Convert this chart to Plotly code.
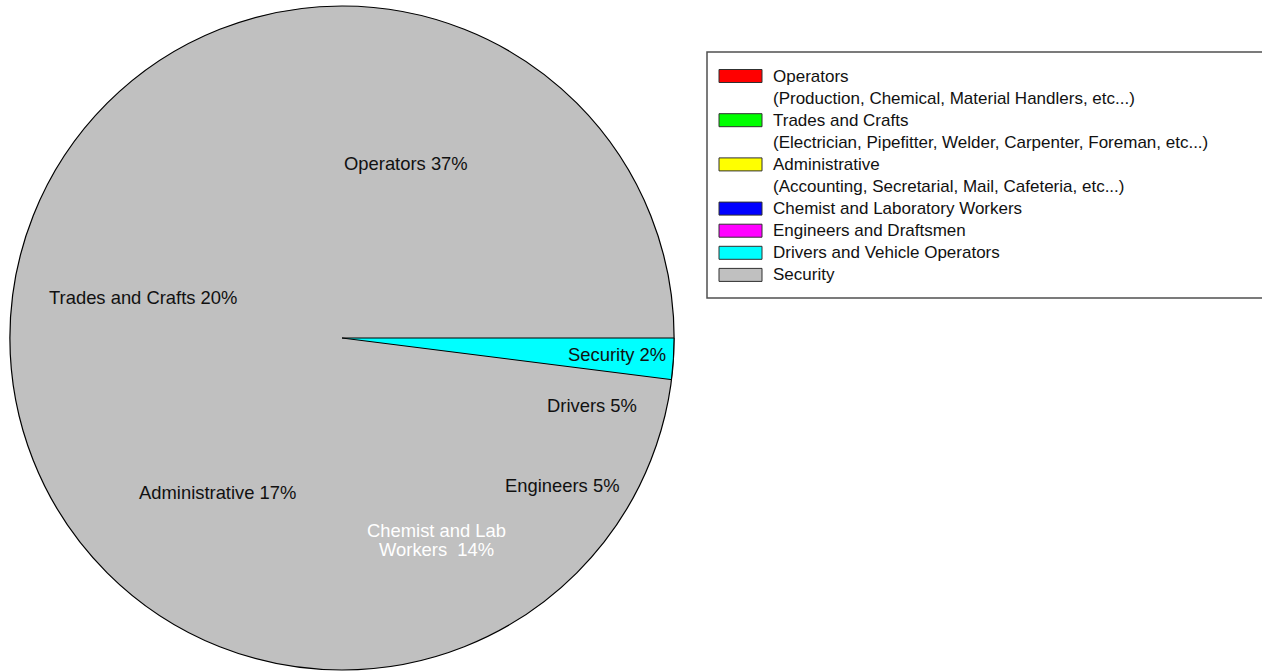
import math
import plotly.graph_objects as go

# ---------------- data ----------------
categories = ["Operators", "Trades and Crafts", "Administrative",
              "Chemist and Laboratory Workers", "Engineers and Draftsmen",
              "Drivers and Vehicle Operators", "Security"]
descriptions = ["(Production, Chemical, Material Handlers, etc...)",
                "(Electrician, Pipefitter, Welder, Carpenter, Foreman, etc...)",
                "(Accounting, Secretarial, Mail, Cafeteria, etc...)",
                "", "", "", ""]
slice_labels = ["Operators 37%", "Trades and Crafts 20%", "Administrative 17%",
                "Chemist and Lab<br>Workers  14%", "Engineers 5%", "Drivers 5%",
                "Security 2%"]
values = [37, 20, 17, 14, 5, 5, 2]
legend_colors = ["#ff0000", "#00ff00", "#ffff00", "#0000ff", "#ff00ff",
                 "#00ffff", "#c0c0c0"]

# ---------------- styling / layout ----------------
W, H = 1262, 671
CX, CY, R = 342, 338, 332          # pie centre / radius in px
GRAY = "#c0c0c0"
FONT = "Liberation Sans, Arial, sans-serif"
FS = 18.4
LFS = 17
slice_fill = ["rgba(0,0,0,0)" if c != "Security" else "#00ffff" for c in categories]
slice_line = [0 if c == "rgba(0,0,0,0)" else 1 for c in slice_fill]
label_colors = ["#111111", "#111111", "#111111", "#ffffff", "#111111", "#111111", "#111111"]
label_r = [0.561, 0.611, 0.598, 0.671, 0.801, 0.780, 0.830]
label_nudge = [3.3, -0.6, -4.5, 3.4, 0.4, 1.0, 0.1]


def px(x):
    return x / W


def py(y):
    return 1 - y / H


domain = dict(x=[px(CX - R), px(CX + R)], y=[py(CY + R), py(CY - R)])
total = sum(values)
# counterclockwise from 3 o'clock: plotly puts the first slice clockwise of "rotation"
rotation = 90 - 360 * values[0] / total

fig = go.Figure()
# full background disc with black outline
fig.add_trace(go.Pie(values=[total], labels=["all"], domain=domain,
                     marker=dict(colors=[GRAY], line=dict(color="black", width=1.2)),
                     textinfo="none", sort=False, showlegend=False,
                     hoverinfo="skip"))
# the slices
fig.add_trace(go.Pie(values=values, labels=categories, domain=domain,
                     marker=dict(colors=slice_fill,
                                 line=dict(color="black", width=slice_line)),
                     textinfo="none", sort=False, direction="counterclockwise",
                     rotation=rotation, showlegend=False, hoverinfo="label+value"))

annotations = []
shapes = []

# slice labels
cum = 0
for i, v in enumerate(values):
    mid = (cum + v / 2) / total * 360 + label_nudge[i]
    cum += v
    rr = label_r[i] * R
    lx = CX + rr * math.cos(math.radians(mid))
    ly = CY - rr * math.sin(math.radians(mid))
    lines = slice_labels[i].split("<br>")
    n = len(lines)
    for k, t in enumerate(lines):
        yy = ly + (k - (n - 1) / 2) * 19
        annotations.append(dict(x=px(lx), y=py(yy), xref="paper", yref="paper",
                                text=t, showarrow=False, xanchor="center",
                                yanchor="middle",
                                font=dict(family=FONT, size=FS, color=label_colors[i])))

# legend box
shapes.append(dict(type="rect", xref="paper", yref="paper",
                   x0=px(707), x1=px(1270), y0=py(298), y1=py(52),
                   line=dict(color="#505050", width=1.5), fillcolor="white",
                   layer="below"))
row = 0
ROW0, DY = 76, 22.1
for i, c in enumerate(categories):
    yc = ROW0 + row * DY
    shapes.append(dict(type="rect", xref="paper", yref="paper",
                       x0=px(719), x1=px(762), y0=py(yc + 6.5), y1=py(yc - 6.5),
                       line=dict(color="#303030", width=1), fillcolor=legend_colors[i]))
    for t in [c, descriptions[i]]:
        if not t:
            continue
        yy = ROW0 + row * DY
        annotations.append(dict(x=px(771), y=py(yy), xref="paper", yref="paper",
                                text=t, showarrow=False, xanchor="left",
                                yanchor="middle",
                                font=dict(family=FONT, size=LFS, color="#111111")))
        row += 1

fig.update_layout(width=W, height=H, margin=dict(l=0, r=0, t=0, b=0),
                  paper_bgcolor="white", plot_bgcolor="white",
                  annotations=annotations, shapes=shapes, showlegend=False)

fig.write_html("out.html", config={"displayModeBar": False},
               post_script="document.body.style.margin='0';"
                           "document.body.style.overflow='hidden';")
